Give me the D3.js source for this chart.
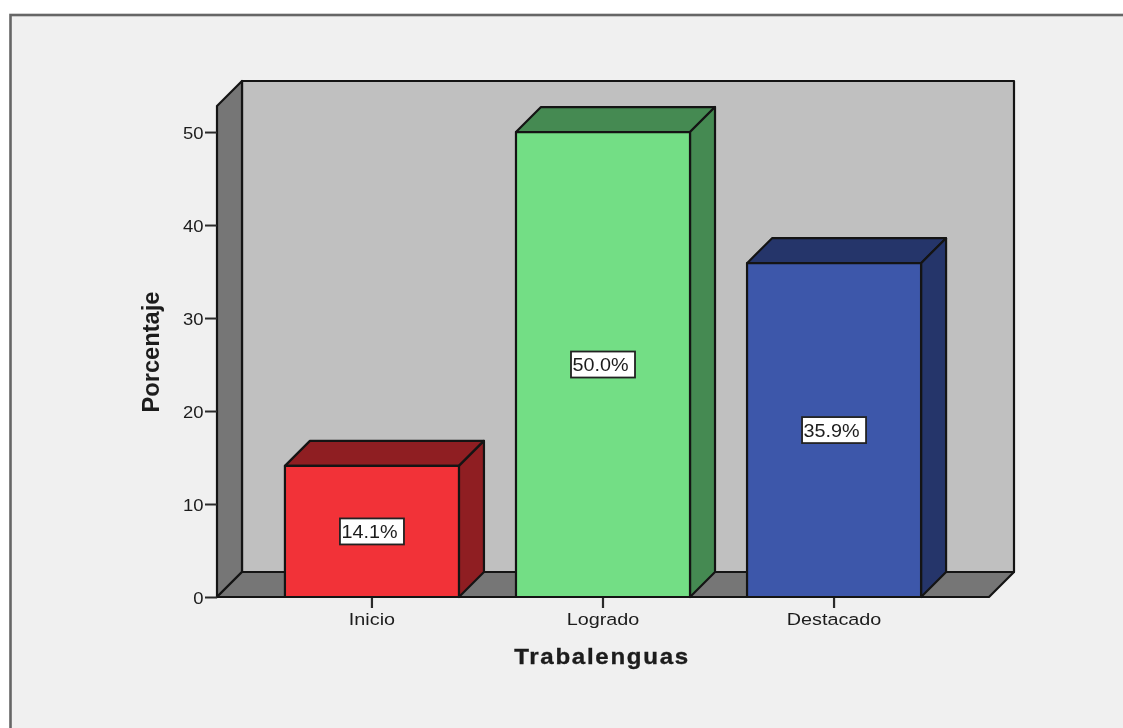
<!DOCTYPE html>
<html><head><meta charset="utf-8">
<script src="https://cdn.jsdelivr.net/npm/d3@7"></script>
<style>html,body{margin:0;padding:0;background:#fff}svg{display:block;filter:blur(0.5px)}text{font-family:"Liberation Sans",Arial,sans-serif;fill:#1c1c1c}</style>
</head><body><svg id="c" width="1123" height="728"></svg>
<script>
const categories = ["Inicio","Logrado","Destacado"];
const values = [14.1,50.0,35.9];
const valueLabels = ["14.1%","50.0%","35.9%"];
const frontColors = ["#f23238","#73de85","#3d57aa"];
const sideColors = ["#8f1e22","#458a52","#25356a"];
const yTicks = [0,10,20,30,40,50];
const yTitle = "Porcentaje", xTitle = "Trabalenguas";
const yMax = 52.8;
const depth = 25, ink = "#141414", stretchX = 1.2, stretchY = 1.12;

const svg = d3.select("#c");
const x = d3.scaleBand().domain(categories).range([217,989]).paddingInner(0.2468).paddingOuter(0.294);
const y = d3.scaleLinear().domain([0,yMax]).range([597,106]);
const x0 = x.range()[0], x1 = x.range()[1], y0 = y(0), yT = y(yMax);
const poly = pts => d3.line()(pts)+"Z";

// frame
svg.append("rect").attr("x",10.5).attr("y",15).attr("width",1140).attr("height",740)
  .attr("fill","#f0f0f0").attr("stroke","#666").attr("stroke-width",2.6);

const wall = (pts,fill,sw=2.2)=>svg.append("path").attr("d",poly(pts)).attr("fill",fill)
  .attr("stroke",ink).attr("stroke-width",sw).attr("stroke-linejoin","round");
// back wall, left wall, floor
wall([[x0+depth,yT-depth],[x1+depth,yT-depth],[x1+depth,y0-depth],[x0+depth,y0-depth]],"#c0c0c0");
wall([[x0,yT],[x0+depth,yT-depth],[x0+depth,y0-depth],[x0,y0]],"#767676");
wall([[x0,y0],[x0+depth,y0-depth],[x1+depth,y0-depth],[x1,y0]],"#767676");

// axes ticks
const axY = svg.append("g").attr("transform",`translate(${x0},0)`)
  .call(d3.axisLeft(y).tickValues(yTicks).tickSize(12).tickFormat(d3.format("d")));
axY.select(".domain").remove();
axY.selectAll("line").attr("stroke","#2a2a2a").attr("stroke-width",2);
axY.selectAll("text").attr("font-size",16.5).attr("fill","#1c1c1c")
  .style("font-family",'"Liberation Sans",Arial,sans-serif')
  .attr("x",-13.5/stretchY).attr("dy","0.42em").attr("transform",`scale(${stretchY},1)`);
const axX = svg.append("g").attr("transform",`translate(0,${y0})`)
  .call(d3.axisBottom(x).tickSize(11).tickPadding(5));
axX.select(".domain").remove();
axX.selectAll("line").attr("stroke","#2a2a2a").attr("stroke-width",2.2);
axX.selectAll("text").attr("font-size",16.5).attr("fill","#1c1c1c")
  .style("font-family",'"Liberation Sans",Arial,sans-serif')
  .attr("transform",`scale(${stretchX},1)`);

// bars
const bars = svg.append("g").selectAll("g").data(categories).join("g");
bars.each(function(c,i){
  const g = d3.select(this), L = x(c), R = L+x.bandwidth(), T = y(values[i]);
  const add=(pts,fill)=>g.append("path").attr("d",poly(pts)).attr("fill",fill)
    .attr("stroke",ink).attr("stroke-width",2.2).attr("stroke-linejoin","round");
  add([[L,T],[L+depth,T-depth],[R+depth,T-depth],[R,T]],sideColors[i]);
  add([[R,T],[R+depth,T-depth],[R+depth,y0-depth],[R,y0]],sideColors[i]);
  add([[L,T],[R,T],[R,y0],[L,y0]],frontColors[i]);
  const cx=(L+R)/2, cy=(T+y0)/2;
  g.append("rect").attr("x",cx-32).attr("y",cy-13).attr("width",64).attr("height",26)
    .attr("fill","#fff").attr("stroke","#222").attr("stroke-width",1.8);
  g.append("text").attr("text-anchor","middle").attr("font-size",17.5)
    .attr("transform",`translate(${cx-2.5},${cy+6.5}) scale(1.13,1)`).text(valueLabels[i]);
});

// titles
svg.append("text").attr("transform","translate(159,352) rotate(-90) scale(1.03,1)").attr("text-anchor","middle")
  .attr("font-size",23).attr("font-weight","bold").text(yTitle);
svg.append("text").attr("transform","translate(602,664) scale(1.07,1)").attr("text-anchor","middle")
  .attr("font-size",22.5).attr("font-weight","bold").attr("letter-spacing",1.6)
  .attr("stroke","#1c1c1c").attr("stroke-width",0.35).text(xTitle);
</script></body></html>
